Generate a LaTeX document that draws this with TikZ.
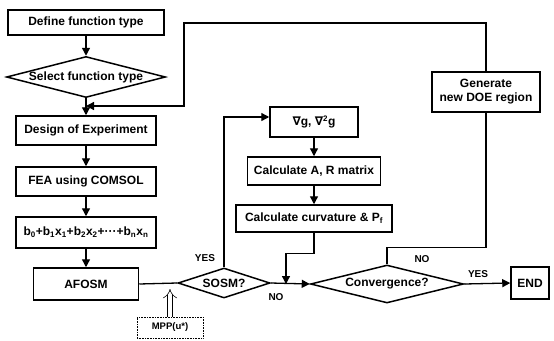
\documentclass[tikz,border=0pt]{standalone}
\usepackage{fontspec}
\setmainfont{Liberation Sans}
\newfontfamily\symfont{DejaVu Sans}
\usetikzlibrary{arrows.meta,shapes.geometric}
\begin{document}
\begin{tikzpicture}[x=1pt,y=-1pt,
  box/.style={draw, line width=1.5pt, fill=white, inner sep=0pt,
    font=\fontsize{12}{14}\selectfont\bfseries, align=center},
  dia/.style={draw, diamond, line width=1.5pt, fill=white, inner sep=0pt,
    font=\fontsize{12}{14}\selectfont\bfseries},
  lbl/.style={font=\fontsize{10}{12}\selectfont\bfseries, inner sep=0pt},
  conn/.style={line width=1.3pt},
  tip/.style={-{Triangle[length=8pt,width=8pt]}},
  hollow/.style={double, double distance=4.5pt, line width=0.6pt, -{Implies}}
]
\useasboundingbox (0,0) rectangle (554,340);

% left column
\node[box, minimum width=156pt, minimum height=25pt] (def) at (86,22.5) {Define function type};
\node[dia, minimum width=159pt, minimum height=41pt] (sel) at (86,77) {\makebox[0pt]{Select function type}};
\node[box, minimum width=140pt, minimum height=29pt] (doe) at (86,130.5) {Design of Experiment};
\node[box, minimum width=140pt, minimum height=29pt] (fea) at (86,181.5) {FEA using COMSOL};
\node[box, minimum width=140pt, minimum height=31pt] (form) at (86,232.5)
  {b\textsubscript{0}+b\textsubscript{1}x\textsubscript{1}+b\textsubscript{2}x\textsubscript{2}+\textperiodcentered\textperiodcentered\textperiodcentered+b\textsubscript{n}x\textsubscript{n}};
\node[box, minimum width=105pt, minimum height=32pt] (afosm) at (86,284) {AFOSM};

% middle
\node[dia, minimum width=92pt, minimum height=30pt] (sosm) at (224,283) {\makebox[0pt]{SOSM?}};
\node[draw, densely dotted, line width=0.6pt, minimum width=66pt, minimum height=21pt, inner sep=0pt,
  font=\fontsize{9.5}{11}\selectfont\bfseries] (mpp) at (170,327.5) {MPP(u*)};
\node[box, minimum width=88pt, minimum height=30pt] (vg) at (314,122)
  {{\symfont\bfseries ∇}g, {\symfont\bfseries ∇}\textsuperscript{2}g};
\node[box, minimum width=133pt, minimum height=28pt] (ar) at (314,171) {Calculate A, R matrix};
\node[box, minimum width=156pt, minimum height=27pt] (curv) at (314,218.5) {Calculate curvature \& P\textsubscript{f}};

% right
\node[dia, minimum width=153pt, minimum height=38pt] (conv) at (387,284) {\makebox[0pt]{Convergence?}};
\node[box, minimum width=38pt, minimum height=32pt] (end) at (530,283) {END};
\node[box, minimum width=108pt, minimum height=40pt] (gen) at (486,92) {Generate\\new DOE region};

% coordinates
\coordinate (fb) at (86,106);
\coordinate (tr) at (486,23);
\coordinate (tl) at (184,23);
\coordinate (j1) at (286,284);
\coordinate (mpptip) at (170,289);

% connectors left column
\draw[conn,tip] (def) -- (sel);
\draw[conn,tip] (sel) -- (doe);
\draw[conn,tip] (doe) -- (fea);
\draw[conn,tip] (fea) -- (form);
\draw[conn,tip] (form) -- (afosm);
\draw[conn] (afosm.east) -- (sosm.west);
\draw[hollow] (mpp.north) -- (mpptip);

% SOSM yes
\draw[conn,tip] (sosm.north) |- ([yshift=5pt]vg.west);
\draw[conn,tip] (vg) -- (ar);
\draw[conn,tip] (ar) -- (curv);
\draw[conn,tip] (curv.south) -- ++(0,21) -| (j1);

% SOSM no
\draw[conn,tip] (sosm.east) -- (conv.west);
\draw[conn,tip] (conv.east) -- (end.west);

% convergence no
\draw[conn] (conv.north) -- ++(0,-17) -| (gen.south);
\draw[conn,tip] (gen.north) -- (tr) -- (tl) |- (fb);

% labels
\node[lbl] (yes1) at (205,258) {YES};
\node[lbl] (no1) at (276,297) {NO};
\node[lbl] (no2) at (422,259) {NO};
\node[lbl] (yes2) at (478,274) {YES};
\end{tikzpicture}
\end{document}
